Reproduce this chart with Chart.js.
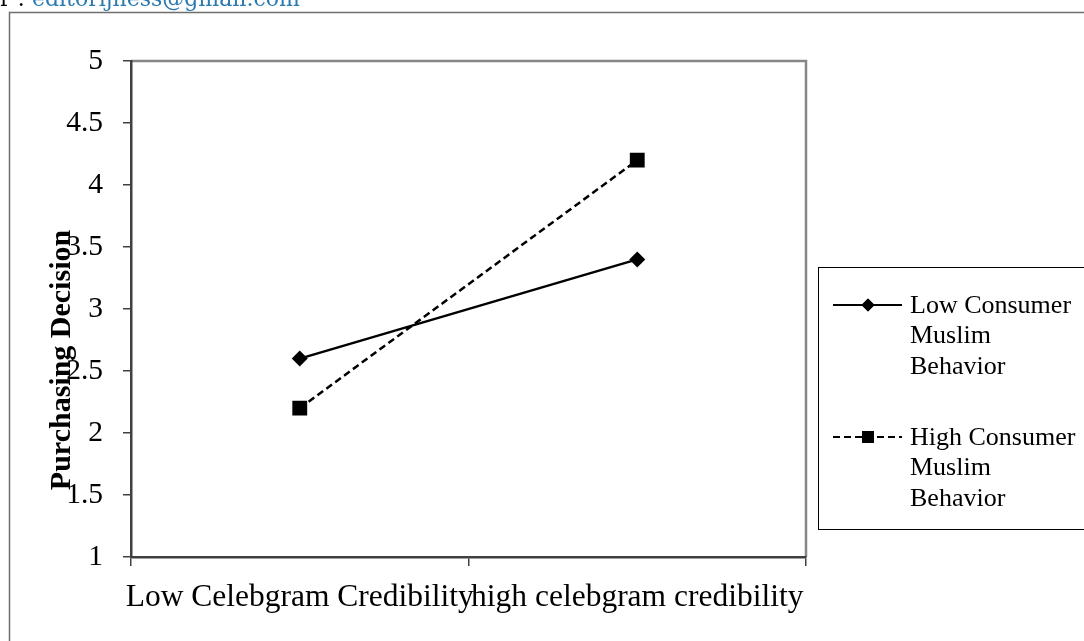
<!DOCTYPE html>
<html><head><meta charset="utf-8">
<script src="https://cdn.jsdelivr.net/npm/chart.js@4/dist/chart.umd.min.js"></script>
<style>
html,body{margin:0;padding:0;background:#fff;overflow:hidden;}
#wrap{position:relative;width:1084px;height:641px;}
#email{position:absolute;left:0;top:-14px;font:22px 'DejaVu Serif';white-space:nowrap;color:#000;}
#email span{color:#2a7ab0;}
canvas{position:absolute;left:0;top:0;}
</style></head><body>
<div id="wrap">
<canvas id="c" width="1084" height="641" style="width:1084px;height:641px"></canvas>
<div id="email">r : <span>editorijness@gmail.com</span></div>
</div>
<script>
const categories = ['Low Celebgram Credibility', 'high celebgram credibility'];
const lowConsumerMuslim = [2.6, 3.4];
const highConsumerMuslim = [2.2, 4.2];
const seriesNames = ['Low Consumer Muslim Behavior', 'High Consumer Muslim Behavior'];
const legendLines = [['Low Consumer', 'Muslim', 'Behavior'], ['High Consumer', 'Muslim', 'Behavior']];
const yTitle = 'Purchasing Decision';
const yMin = 1, yMax = 5, yStep = 0.5;

const SERIF = "'Liberation Serif', 'Times New Roman', serif";

const decorPlugin = {
  id: 'decor',
  beforeDraw(chart) {
    const ctx = chart.ctx, a = chart.chartArea;
    ctx.save();
    ctx.strokeStyle = '#6e6e6e';
    ctx.lineWidth = 1.5;
    ctx.strokeRect(9.5, 12.5, 1300, 1000);
    ctx.strokeStyle = '#868686';
    ctx.lineWidth = 2.5;
    ctx.beginPath();
    ctx.moveTo(a.left, a.top);
    ctx.lineTo(a.right, a.top);
    ctx.lineTo(a.right, a.bottom);
    ctx.stroke();
    ctx.restore();
  },
  afterDraw(chart) {
    const ctx = chart.ctx;
    ctx.save();
    ctx.translate(62, 360);
    ctx.rotate(-Math.PI / 2);
    ctx.font = 'bold 30px ' + SERIF;
    ctx.fillStyle = '#000';
    ctx.textAlign = 'center';
    ctx.textBaseline = 'middle';
    ctx.fillText(yTitle, 0, 0);
    ctx.restore();

    ctx.save();
    ctx.strokeStyle = '#000';
    ctx.lineWidth = 1;
    ctx.strokeRect(818.5, 267.5, 400, 262);
    const legMarker = [{style: 'rectRot', r: 6.5}, {style: 'rect', r: 8.5}];
    chart.data.datasets.forEach((ds, i) => {
      const y0 = 305 + i * 132;
      ctx.save();
      ctx.strokeStyle = ds.borderColor;
      ctx.lineWidth = 2;
      ctx.setLineDash(ds.borderDash || []);
      ctx.beginPath();
      ctx.moveTo(833, y0);
      ctx.lineTo(902, y0);
      ctx.stroke();
      ctx.restore();
      ctx.fillStyle = '#000';
      ctx.strokeStyle = '#000';
      Chart.helpers.drawPoint(ctx, {pointStyle: legMarker[i].style, radius: legMarker[i].r, rotation: 0, borderWidth: 0}, 868, y0);
      ctx.fill();
      ctx.font = '26px ' + SERIF;
      ctx.textAlign = 'left';
      ctx.textBaseline = 'middle';
      legendLines[i].forEach((t, j) => ctx.fillText(t, 910, y0 + 1 + j * 30.5));
    });
    ctx.restore();
  }
};

new Chart(document.getElementById('c'), {
  type: 'line',
  data: {
    labels: categories,
    datasets: [
      {label: seriesNames[0], data: lowConsumerMuslim, borderColor: '#000', backgroundColor: '#000',
       borderWidth: 2.5, pointStyle: 'rectRot', pointRadius: 8, pointBorderWidth: 0, tension: 0, fill: false},
      {label: seriesNames[1], data: highConsumerMuslim, borderColor: '#000', backgroundColor: '#000',
       borderWidth: 2.5, borderDash: [7, 4], pointStyle: 'rect', pointRadius: 10.5, pointBorderWidth: 0, tension: 0, fill: false}
    ]
  },
  options: {
    responsive: false,
    animation: false,
    layout: {padding: {top: 61, right: 278, left: 0, bottom: 0}},
    plugins: {legend: {display: false}, tooltip: {enabled: false}},
    scales: {
      x: {
        offset: true,
        grid: {offset: true, drawOnChartArea: false, drawTicks: true, tickLength: 9, color: '#404040', lineWidth: 1.5},
        border: {display: true, color: '#404040', width: 2.5},
        ticks: {font: {family: SERIF, size: 31.5}, color: '#000', padding: 13, maxRotation: 0, autoSkip: false},
        afterFit: s => { s.height = 84; }
      },
      y: {
        min: yMin, max: yMax,
        grid: {drawOnChartArea: false, drawTicks: true, tickLength: 8, color: '#404040', lineWidth: 1.5},
        border: {display: true, color: '#404040', width: 2.5},
        ticks: {stepSize: yStep, font: {family: SERIF, size: 29.5}, color: '#000', padding: 20,
                callback: v => String(+v)},
        afterFit: s => { s.width = 131; }
      }
    }
  },
  plugins: [decorPlugin]
});
</script>
</body></html>
